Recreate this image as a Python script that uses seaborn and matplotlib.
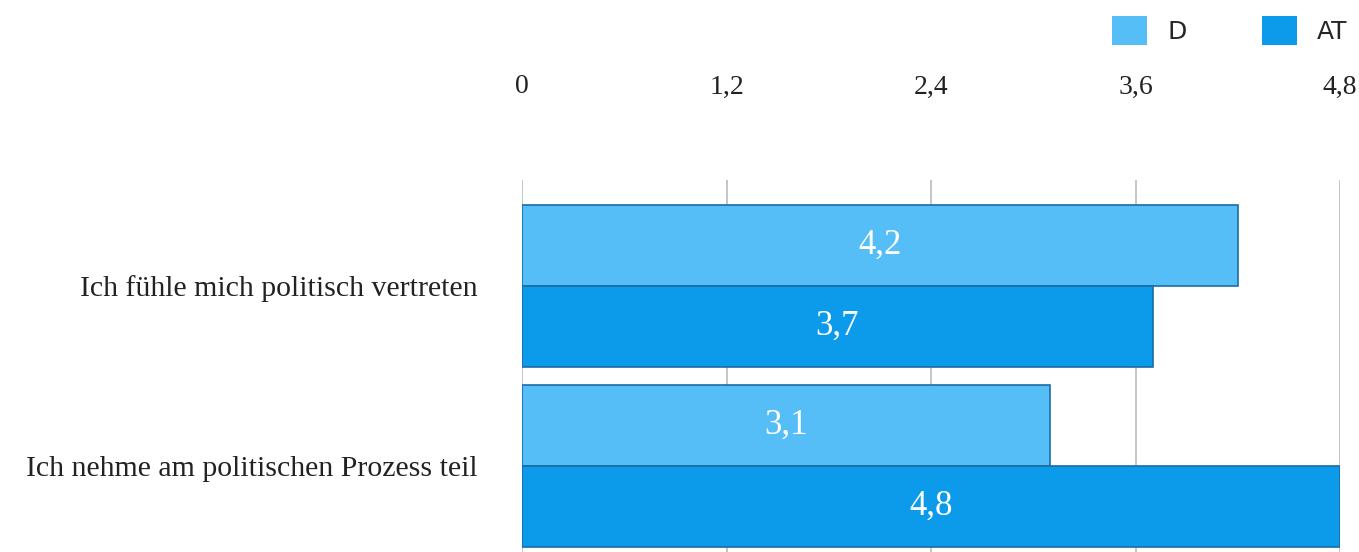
import matplotlib
matplotlib.use("Agg")
import matplotlib.pyplot as plt
import seaborn as sns
import pandas as pd
from matplotlib.patches import Patch

categories = ["Ich fühle mich politisch vertreten", "Ich nehme am politischen Prozess teil"]
series_names = ["D", "AT"]
values_D = [4.2, 3.1]
values_AT = [3.7, 4.8]
tick_values = [0, 1.2, 2.4, 3.6, 4.8]
tick_labels = ["0", "1,2", "2,4", "3,6", "4,8"]

colors = {"D": "#56BEF7", "AT": "#0C9BEA"}

df = pd.DataFrame({
    "Kategorie": categories * 2,
    "Land": ["D"] * len(categories) + ["AT"] * len(categories),
    "Wert": values_D + values_AT,
})

sns.set_theme(style="white")
plt.rcParams["font.family"] = ["Liberation Serif", "DejaVu Serif"]

fig = plt.figure(figsize=(13.59, 5.52), dpi=100)
ax = fig.add_axes([522 / 1359, 0.0, 818 / 1359, 1 - 180 / 552])

sns.barplot(data=df, x="Wert", y="Kategorie", hue="Land", order=categories,
            hue_order=series_names, palette=colors, saturation=1, orient="h", width=0.9,
            ax=ax, legend=False, edgecolor="#1B6DA6", linewidth=1.2, zorder=3)

ax.set_xlim(0, 4.8)
ax.set_ylim(1.478, -0.589)
ax.set_xticks(tick_values)
ax.set_xticklabels(tick_labels)
ax.xaxis.tick_top()
ax.tick_params(axis="x", top=False, bottom=False, labelsize=20, pad=52, colors="#222222")
ax.tick_params(axis="y", left=False, labelsize=21.5, pad=26, colors="#222222")
ax.set_xlabel("")
ax.set_ylabel("")
ax.xaxis.grid(True, color="#BBBBBB", linewidth=1.2, zorder=0)
ax.set_axisbelow(True)
for s in ax.spines.values():
    s.set_visible(False)

for container in ax.containers:
    labels = [f"{v:.1f}".replace(".", ",") for v in container.datavalues]
    ax.bar_label(container, labels=labels, label_type="center", color="white",
                 fontsize=25, zorder=5)

handles = [Patch(facecolor=colors[n], edgecolor="none", label=n) for n in series_names]
leg = fig.legend(handles=handles, loc="upper right", bbox_to_anchor=(1.008, 1.012), ncol=2,
                 frameon=False, handlelength=1.4, handleheight=1.4, columnspacing=3.0,
                 handletextpad=0.8, prop={"family": "DejaVu Sans", "size": 18})

fig.savefig("out.png", dpi=100)
